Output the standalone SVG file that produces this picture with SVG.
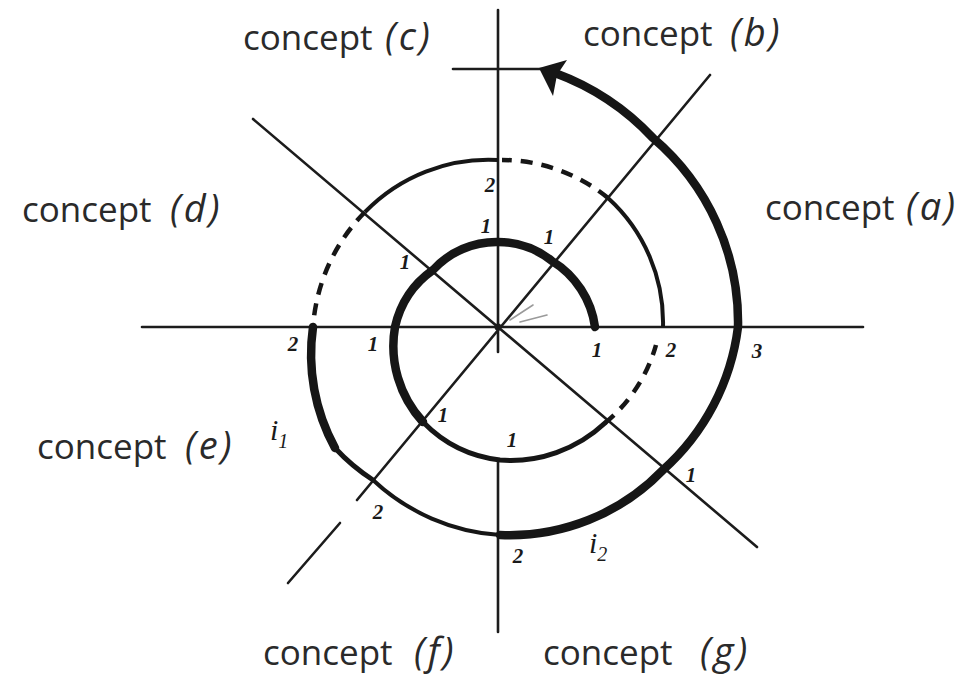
<svg xmlns="http://www.w3.org/2000/svg" width="975" height="677" viewBox="0 0 975 677">
<style>
.axis{stroke:#1c1c1c;stroke-width:2.6;fill:none;stroke-linecap:round}
.thick{stroke:#161616;stroke-width:8.5;fill:none;stroke-linecap:round}
.mid{stroke:#161616;stroke-width:5;fill:none;stroke-linecap:round}
.thin{stroke:#161616;stroke-width:4;fill:none;stroke-linecap:butt}
.dash{stroke:#161616;stroke-width:4.5;fill:none;stroke-dasharray:12 9}
.faint{stroke:#9a9a9a;stroke-width:1.6;fill:none;stroke-linecap:round}
.concept{font-family:"Open Sans","Liberation Sans",sans-serif;font-size:35px;fill:#2a2a2a}
.concept tspan{font-style:italic;font-size:38px;letter-spacing:3px}
.hand{font-family:"Liberation Serif",serif;font-style:italic;font-weight:bold;font-size:21px;fill:#1a1a1a;text-anchor:middle}
.idx{font-family:"Liberation Serif",serif;font-style:italic;font-size:30px;fill:#1a1a1a}
</style>
<rect width="975" height="677" fill="#ffffff"/>
<g id="axes">
  <line class="axis" x1="142" y1="327" x2="863" y2="327"/>
  <line class="axis" x1="498" y1="10" x2="498" y2="352"/>
  <line class="axis" x1="498" y1="460" x2="498" y2="632"/>
  <line class="axis" x1="253" y1="119" x2="757" y2="547"/>
  <line class="axis" x1="710" y1="75" x2="357" y2="500"/>
  <line class="axis" x1="340" y1="523" x2="288" y2="583"/>
  <circle cx="498" cy="327" r="3.5" fill="#1c1c1c"/>
  <line class="faint" x1="510" y1="320" x2="533" y2="305"/>
  <line class="faint" x1="520" y1="322" x2="547" y2="315"/>
</g>
<g id="spiral">
  <path class="thick" d="M595,327 A92,92 0 0 0 552,261 A86,86 0 0 0 498,242 A86,86 0 0 0 433,270 A95,95 0 0 0 395,327 A112,112 0 0 0 423,422"/>
  <path class="mid" d="M423,422 A128,128 0 0 0 500,460 A138,138 0 0 0 605,423"/>
  <path class="dash" d="M605,423 A155,155 0 0 0 656,345"/>
  <path class="thin" d="M663,327 A168,168 0 0 0 608,198"/>
  <path class="dash" d="M608,198 A168,168 0 0 0 502,160"/>
  <path class="thin" d="M498,160 A172,172 0 0 0 365,212"/>
  <path class="dash" d="M365,212 A182,182 0 0 0 313,327"/>
  <path class="thick" d="M313,327 A195,195 0 0 0 335,448"/>
  <path class="mid" d="M335,448 A198,198 0 0 0 373,480"/>
  <path class="thin" d="M373,480 A205,205 0 0 0 500,535"/>
  <path class="thick" d="M500,535 A213,213 0 0 0 663,470 A230,230 0 0 0 738,327 A242,242 0 0 0 653,138 A255,255 0 0 0 555,73"/>
  <line class="axis" x1="453" y1="69" x2="548" y2="69"/>
  <polygon points="539,68 567,60 557,75 553,96" fill="#161616"/>
</g>
<g id="numbers">
  <text class="hand" x="597" y="357">1</text>
  <text class="hand" x="671" y="357">2</text>
  <text class="hand" x="757" y="358">3</text>
  <text class="hand" x="486" y="233">1</text>
  <text class="hand" x="490" y="192">2</text>
  <text class="hand" x="549" y="244">1</text>
  <text class="hand" x="405" y="269">1</text>
  <text class="hand" x="373" y="351">1</text>
  <text class="hand" x="293" y="351">2</text>
  <text class="hand" x="443" y="422">1</text>
  <text class="hand" x="512" y="447">1</text>
  <text class="hand" x="378" y="519">2</text>
  <text class="hand" x="518" y="563">2</text>
  <text class="hand" x="691" y="482">1</text>
  <text class="idx" x="270" y="440">i<tspan dy="8" font-size="20">1</tspan></text>
  <text class="idx" x="589" y="553">i<tspan dy="8" font-size="20">2</tspan></text>
</g>
<g id="labels">
  <text class="concept" x="243" y="50">concept<tspan x="385">(c)</tspan></text>
  <text class="concept" x="583" y="46">concept<tspan x="730">(b)</tspan></text>
  <text class="concept" x="765" y="220">concept<tspan x="906">(a)</tspan></text>
  <text class="concept" x="22" y="222">concept<tspan x="170">(d)</tspan></text>
  <text class="concept" x="37" y="459">concept<tspan x="185">(e)</tspan></text>
  <text class="concept" x="263" y="665">concept<tspan x="414">(f)</tspan></text>
  <text class="concept" x="543" y="665">concept<tspan x="700">(g)</tspan></text>
</g>
</svg>
